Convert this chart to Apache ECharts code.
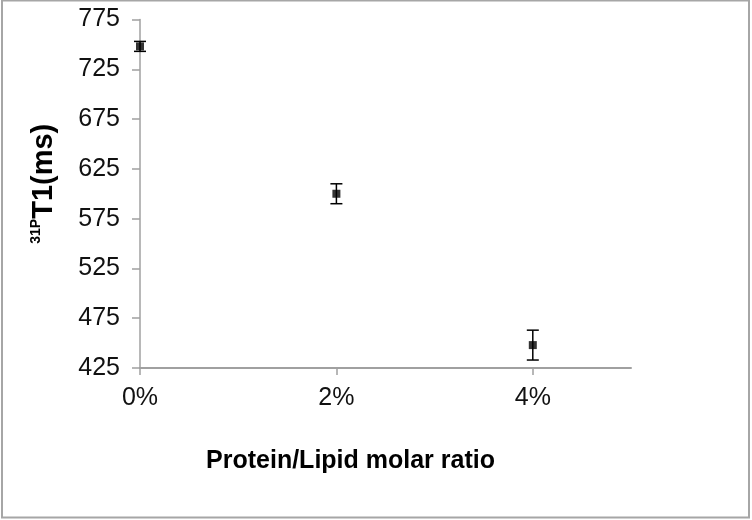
<!DOCTYPE html>
<html>
<head>
<meta charset="utf-8">
<script src="https://cdn.jsdelivr.net/npm/echarts@6/dist/echarts.min.js"></script>
<style>
  html, body { margin: 0; padding: 0; background: #fff; }
  #chart { width: 752px; height: 520px; }
</style>
</head>
<body>
<div id="chart"></div>
<script>
// protein/lipid molar ratio (%) and measured 31P T1 (ms) with error
var ratios = [0, 2, 4];
var t1 = [748, 600, 448];
var t1Err = [5, 10, 15];
var xTicks = [0, 2, 4];

var font = '"Liberation Sans", Arial, sans-serif';
var chart = echarts.init(document.getElementById('chart'));

var points = ratios.map(function (r, i) { return [r, t1[i]]; });
var bars = ratios.map(function (r, i) { return [r, t1[i] - t1Err[i], t1[i] + t1Err[i]]; });

var option = {
    backgroundColor: '#fff',
    animation: false,
    grid: { left: 140, right: 121, top: 19.5, bottom: 152 },
    graphic: [{
        type: 'rect',
        shape: { x: 2, y: 0.5, width: 747, height: 517 },
        style: { fill: 'none', stroke: '#a6a6a6', lineWidth: 2 }
    }],
    xAxis: {
        type: 'value',
        min: 0,
        max: 5,
        interval: 1,
        name: 'Protein/Lipid molar ratio',
        nameLocation: 'middle',
        nameGap: 81,
        nameTextStyle: { fontFamily: font, fontSize: 25, fontWeight: 'bold', color: '#000', padding: [0, 70, 0, 0] },
        axisLine: { lineStyle: { color: '#a0a0a0', width: 2 } },
        axisTick: { show: true, length: 7, customValues: xTicks, lineStyle: { color: '#a0a0a0', width: 1.5 } },
        axisLabel: {
            customValues: xTicks, margin: 18,
            fontFamily: font, fontSize: 25, color: '#111',
            formatter: function (v) { return v + '%'; }
        },
        splitLine: { show: false }
    },
    yAxis: {
        type: 'value',
        min: 425,
        max: 775,
        interval: 50,
        name: '{sup|31P}{main|T1(ms)}',
        nameLocation: 'middle',
        nameGap: 82,
        nameTextStyle: {
            padding: [0, 0, 0, 20],
            rich: {
                sup: { fontFamily: font, fontSize: 14, fontWeight: 'bold', color: '#000', verticalAlign: 'top', padding: [0, 0, 12, 0] },
                main: { fontFamily: font, fontSize: 29, fontWeight: 'bold', color: '#000' }
            }
        },
        axisLine: { show: true, lineStyle: { color: '#a0a0a0', width: 1.5 } },
        axisTick: { show: true, length: 8, lineStyle: { color: '#a0a0a0', width: 1.5 } },
        axisLabel: { margin: 20, fontFamily: font, fontSize: 25, color: '#111' },
        splitLine: { show: false }
    },
    series: [{
        type: 'custom',
        data: bars,
        z: 3,
        renderItem: function (params, api) {
            var lo = api.coord([api.value(0), api.value(1)]);
            var hi = api.coord([api.value(0), api.value(2)]);
            var w = 6;
            var st = { stroke: '#000', lineWidth: 1.5 };
            return {
                type: 'group',
                children: [
                    { type: 'line', shape: { x1: hi[0], y1: hi[1], x2: lo[0], y2: lo[1] }, style: st },
                    { type: 'line', shape: { x1: hi[0] - w, y1: hi[1], x2: hi[0] + w, y2: hi[1] }, style: st },
                    { type: 'line', shape: { x1: lo[0] - w, y1: lo[1], x2: lo[0] + w, y2: lo[1] }, style: st }
                ]
            };
        }
    }, {
        type: 'scatter',
        data: points,
        symbol: 'rect',
        symbolSize: [8, 8],
        z: 4,
        itemStyle: { color: '#000' }
    }]
};

chart.setOption(option);
</script>
</body>
</html>
